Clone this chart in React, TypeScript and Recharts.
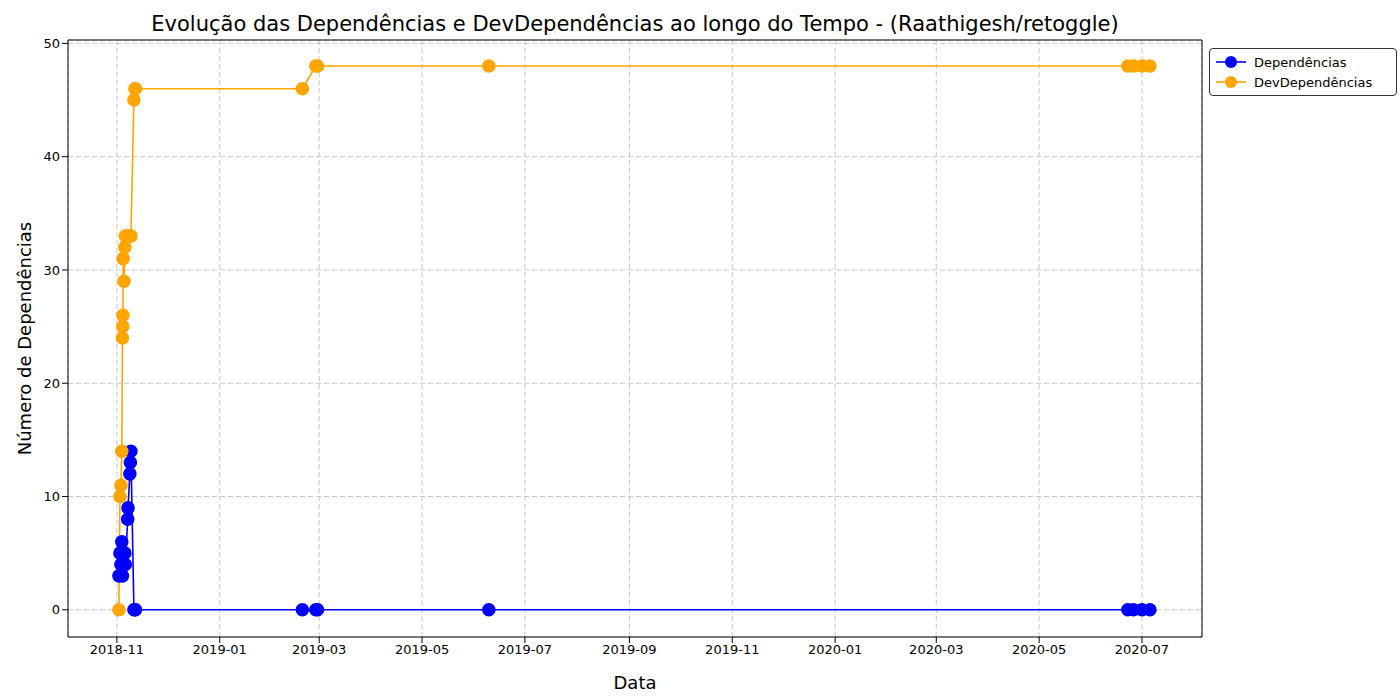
import { LineChart, Line, XAxis, YAxis, CartesianGrid, Label, ReferenceLine } from 'recharts';

const BASE = Date.UTC(2018, 10, 1);
const DAY = 86400000;

// dias desde 2018-11-01 de cada commit
const days = [1.2, 1.8, 2.4, 2.9, 3.3, 3.5, 3.6, 3.7, 4.2, 4.7, 5.0, 6.4, 6.6, 7.7, 8.0, 8.3, 10.1, 10.7, 11.0, 110, 118, 119, 220.6, 599.6, 603, 608, 612.7];
const dependencias = [3, 5, 4, 6, 3, 5, 4, 5, 4, 5, 4, 8, 9, 12, 13, 14, 0, 0, 0, 0, 0, 0, 0, 0, 0, 0, 0];
const devDependencias = [0, 10, 11, 14, 24, 25, 26, 31, 29, 32, 33, 33, 33, 33, 33, 33, 45, 46, 46, 46, 48, 48, 48, 48, 48, 48, 48];
const xTickLabels = ['2018-11', '2019-01', '2019-03', '2019-05', '2019-07', '2019-09', '2019-11', '2020-01', '2020-03', '2020-05', '2020-07'];
const yTicks = [0, 10, 20, 30, 40, 50];

const data = days.map((d, i) => ({ t: BASE + d * DAY, dep: dependencias[i], dev: devDependencias[i] }));
const xTicks = xTickLabels.map((s) => Date.UTC(Number(s.slice(0, 4)), Number(s.slice(5)) - 1, 1));
const fmt = (v: number) => {
  const d = new Date(v);
  return `${d.getUTCFullYear()}-${String(d.getUTCMonth() + 1).padStart(2, '0')}`;
};

const font = 'DejaVu Sans, sans-serif';
const xMax = BASE + 643.6 * DAY;
const yMax = 50.3;

export default function App() {
  return (
    <div style={{ position: 'absolute', left: 0, top: 0, width: 1400, height: 700, background: '#fff', fontFamily: font }}>
      <div style={{ position: 'absolute', top: 12, left: 68, width: 1134, textAlign: 'center', fontSize: 21 }}>
        Evolução das Dependências e DevDependências ao longo do Tempo - (Raathigesh/retoggle)
      </div>
      <LineChart width={1400} height={700} data={data} margin={{ top: 40, right: 198, left: 8, bottom: 33 }}>
        <CartesianGrid stroke="#c8c8c8" strokeDasharray="5 3" />
        <XAxis
          dataKey="t"
          type="number"
          scale="time"
          domain={[BASE - 29 * DAY, xMax]}
          ticks={xTicks}
          tickFormatter={fmt}
          stroke="#000"
          tick={{ fontSize: 13, fill: '#000' }}
          height={30}
        >
          <Label value="Data" position="insideBottom" offset={-22} style={{ fontSize: 18, fill: '#000' }} />
        </XAxis>
        <YAxis
          type="number"
          domain={[-2.4, yMax]}
          ticks={yTicks}
          stroke="#000"
          tick={{ fontSize: 13, fill: '#000' }}
          width={60}
        >
          <Label value="Número de Dependências" angle={-90} position="insideLeft" offset={17} style={{ fontSize: 18, fill: '#000', textAnchor: 'middle' }} />
        </YAxis>
        <ReferenceLine x={xMax} stroke="#000" />
        <ReferenceLine y={yMax} stroke="#000" />
        <Line dataKey="dep" stroke="#0000ff" strokeWidth={1.6} dot={{ r: 6, fill: '#0000ff', stroke: '#0000ff' }} isAnimationActive={false} />
        <Line dataKey="dev" stroke="#ffa500" strokeWidth={1.6} dot={{ r: 6, fill: '#ffa500', stroke: '#ffa500' }} isAnimationActive={false} />
      </LineChart>
      <div style={{ position: 'absolute', left: 1209, top: 48, width: 174, border: '1px solid #333', borderRadius: 4, padding: '3px 6px', fontSize: 13, background: '#fff' }}>
        {[['Dependências', '#0000ff'], ['DevDependências', '#ffa500']].map(([n, c]) => (
          <div key={n} style={{ display: 'flex', alignItems: 'center', height: 20 }}>
            <svg width={30} height={14} style={{ marginRight: 8 }}>
              <line x1={0} x2={30} y1={7} y2={7} stroke={c} strokeWidth={1.6} />
              <circle cx={15} cy={7} r={6} fill={c} />
            </svg>
            {n}
          </div>
        ))}
      </div>
    </div>
  );
}
